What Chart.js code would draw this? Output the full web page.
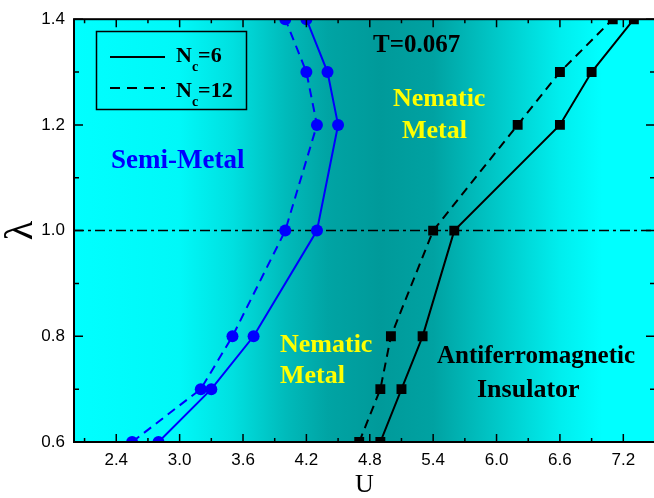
<!DOCTYPE html>
<html>
<head>
<meta charset="utf-8">
<script src="https://cdn.jsdelivr.net/npm/chart.js@4"></script>
<style>
html, body { margin: 0; padding: 0; overflow: hidden; background: #fff; }
</style>
</head>
<body>
<canvas id="phase" width="662" height="498"></canvas>
<script>
// phase diagram lambda vs U, T=0.067

// lambda values where the boundaries were computed
const lambdaLevels = [0.6, 0.7, 0.8, 1.0, 1.2, 1.3, 1.4];

// semi-metal / nematic metal boundary (blue circles)
const uSemiNc6  = [2.8, 3.3, 3.7, 4.3, 4.5, 4.4, 4.2];
const uSemiNc12 = [2.55, 3.2, 3.5, 4.0, 4.3, 4.2, 4.0];

// nematic metal / AF insulator boundary (black squares)
const uAfNc6  = [4.9, 5.1, 5.3, 5.6, 6.6, 6.9, 7.3];
const uAfNc12 = [4.7, 4.9, 5.0, 5.4, 6.2, 6.6, 7.1];

// horizontal dash-dot reference line
const refLambda = 1.0;

// ticks
const xTicks = [2.4, 3.0, 3.6, 4.2, 4.8, 5.4, 6.0, 6.6, 7.2];
const xMinorTicks = [2.1, 2.7, 3.3, 3.9, 4.5, 5.1, 5.7, 6.3, 6.9];
const yTicks = [0.6, 0.8, 1.0, 1.2, 1.4];
const yMinorTicks = [0.7, 0.9, 1.1, 1.3];

// background shading (U position -> colour)
const bgStops = [
  [2.0, '#00FFFF'], [3.0, '#00F8F8'], [3.5, '#00E0E0'], [4.0, '#00BBBB'],
  [4.4, '#00A4A4'], [4.9, '#009A9A'], [5.4, '#00A2A2'], [6.0, '#00C8C8'],
  [6.6, '#00EEEE'], [7.0, '#00FFFF'], [7.5, '#00FFFF']
];

const toPoints = us => lambdaLevels.map((l, i) => ({ x: us[i], y: l }));

function line(us, color, dash, style, radius) {
  return {
    data: toPoints(us),
    showLine: true,
    borderColor: color,
    backgroundColor: color,
    borderWidth: 2,
    borderDash: dash,
    pointStyle: style,
    pointRadius: radius,
    pointHoverRadius: radius,
    pointBorderWidth: 0,
    tension: 0,
    clip: 0
  };
}

const serif = 'Liberation Serif, Times New Roman, serif';

const decor = {
  id: 'decor',
  beforeDatasetsDraw(chart) {
    const { ctx, chartArea: a, scales: { x, y } } = chart;
    const g = ctx.createLinearGradient(a.left, 0, a.right, 0);
    bgStops.forEach(([u, c]) => {
      const t = (x.getPixelForValue(u) - a.left) / a.width;
      g.addColorStop(Math.min(1, Math.max(0, t)), c);
    });
    ctx.save();
    ctx.fillStyle = g;
    ctx.fillRect(a.left, a.top, a.width, a.height);

    const yy = y.getPixelForValue(refLambda);
    ctx.strokeStyle = '#000';
    ctx.lineWidth = 1.5;
    ctx.setLineDash([10, 4, 3, 4]);
    ctx.beginPath();
    ctx.moveTo(a.left, yy);
    ctx.lineTo(a.right, yy);
    ctx.stroke();
    ctx.restore();
  },
  afterDatasetsDraw(chart) {
    const ctx = chart.ctx;
    ctx.save();
    const txt = (s, px, py, size, color) => {
      ctx.font = 'bold ' + size + 'px ' + serif;
      ctx.fillStyle = color;
      ctx.textAlign = 'left';
      ctx.textBaseline = 'alphabetic';
      ctx.fillText(s, px, py);
    };
    txt('T=0.067', 373, 52, 25, '#000');
    txt('Nematic', 393, 106, 26, '#FFFF00');
    txt('Metal', 402, 138, 26, '#FFFF00');
    txt('Semi-Metal', 111, 168, 27, '#0000FF');
    txt('Nematic', 280, 352, 26, '#FFFF00');
    txt('Metal', 280, 383, 26, '#FFFF00');
    txt('Antiferromagnetic', 437, 363, 25, '#000');
    txt('Insulator', 477, 397, 26, '#000');

    // legend
    ctx.strokeStyle = '#000';
    ctx.lineWidth = 1.5;
    ctx.strokeRect(96.5, 31.5, 150, 78);
    ctx.lineWidth = 2;
    ctx.beginPath(); ctx.moveTo(110, 57); ctx.lineTo(165, 57); ctx.stroke();
    ctx.setLineDash([10, 7]);
    ctx.beginPath(); ctx.moveTo(110, 88); ctx.lineTo(165, 88); ctx.stroke();
    ctx.setLineDash([]);
    [['=6', 62], ['=12', 97]].forEach(([s, base]) => {
      ctx.font = 'bold 22px ' + serif;
      ctx.fillStyle = '#000';
      ctx.fillText('N', 176, base);
      let px = 176 + ctx.measureText('N').width;
      ctx.font = 'bold 14px ' + serif;
      ctx.fillText('c', px, base + 9);
      px += ctx.measureText('c').width;
      ctx.font = 'bold 22px ' + serif;
      ctx.fillText(s, px, base);
    });
    ctx.restore();
  },
  afterDraw(chart) {
    const { ctx, chartArea: a, scales: { x, y } } = chart;
    ctx.save();
    ctx.strokeStyle = '#000';
    ctx.lineWidth = 1.5;
    ctx.beginPath();
    const xt = (v, len) => {
      const px = x.getPixelForValue(v);
      ctx.moveTo(px, a.bottom); ctx.lineTo(px, a.bottom - len);
      ctx.moveTo(px, a.top); ctx.lineTo(px, a.top + len);
    };
    const yt = (v, len) => {
      const py = y.getPixelForValue(v);
      ctx.moveTo(a.left, py); ctx.lineTo(a.left + len, py);
      ctx.moveTo(a.right, py); ctx.lineTo(a.right - len, py);
    };
    xTicks.forEach(v => xt(v, 8));
    xMinorTicks.forEach(v => xt(v, 4));
    yTicks.forEach(v => yt(v, 9));
    yMinorTicks.forEach(v => yt(v, 5));
    ctx.stroke();
    ctx.lineWidth = 2;
    ctx.strokeRect(a.left, a.top, a.width, a.height);
    ctx.restore();
  }
};

const tickFont = { family: 'Liberation Sans, Arial, sans-serif', size: 17 };

new Chart(document.getElementById('phase'), {
  type: 'scatter',
  data: {
    datasets: [
      line(uSemiNc6, '#0000FF', [], 'circle', 6),
      line(uSemiNc12, '#0000FF', [9, 6], 'circle', 6),
      line(uAfNc6, '#000000', [], 'rect', 7),
      line(uAfNc12, '#000000', [9, 6], 'rect', 7)
    ]
  },
  options: {
    responsive: false,
    animation: false,
    layout: { padding: { top: 10, right: 3, left: 0, bottom: 0 } },
    plugins: { legend: { display: false }, tooltip: { enabled: false } },
    scales: {
      x: {
        type: 'linear', min: 2.0, max: 7.5,
        grid: { display: false, drawTicks: false },
        border: { display: false },
        afterBuildTicks: s => { s.ticks = xTicks.map(v => ({ value: v })); },
        afterFit: s => { s.height = 56; },
        ticks: { font: tickFont, color: '#000', padding: 8, maxRotation: 0, autoSkip: false,
                 callback: v => v.toFixed(1) },
        title: { display: true, text: 'U', color: '#000', padding: 0,
                 font: { family: serif, size: 26, lineHeight: 1 } }
      },
      y: {
        type: 'linear', min: 0.6, max: 1.4,
        grid: { display: false, drawTicks: false },
        border: { display: false },
        afterBuildTicks: s => { s.ticks = yTicks.map(v => ({ value: v })); },
        afterFit: s => { s.width = 74; },
        ticks: { font: tickFont, color: '#000', padding: 9, autoSkip: false,
                 callback: v => v.toFixed(1) },
        title: { display: true, text: 'λ', color: '#000', padding: 0,
                 font: { family: serif, size: 40, lineHeight: 1.05 } }
      }
    }
  },
  plugins: [decor]
});
</script>
</body>
</html>
